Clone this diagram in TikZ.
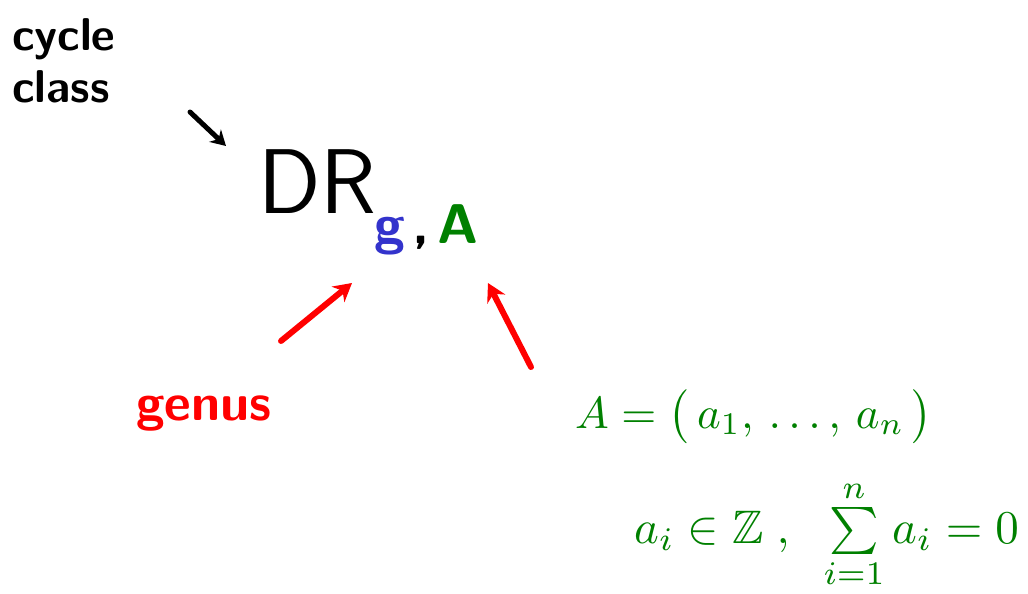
\documentclass[tikz,border=0pt]{standalone}
\usepackage{amssymb}
\usepackage{graphicx}
\usetikzlibrary{arrows.meta}
\definecolor{pgreen}{RGB}{0,128,0}
\definecolor{pblue}{RGB}{51,51,204}
\definecolor{pred}{RGB}{255,0,0}
\tikzset{
  hand/.style={inner sep=0pt, font=\sffamily},
  arr/.style={line width=6pt, line cap=round, -{Stealth[length=18pt,width=20pt]}},
}
\begin{document}
\begin{tikzpicture}[x=1pt,y=-1pt]
\useasboundingbox (0,0) rectangle (1028,594);
% labels
\node[hand, font=\fontsize{46}{52}\selectfont\sffamily\bfseries, align=left, anchor=north west] (cc) at (12,18) {cycle\\class};
\node[hand, anchor=base west, font=\fontsize{92}{92}\selectfont\sffamily] (dr) at (258,213) {DR};
\node[hand, anchor=base west, text=pblue, font=\fontsize{56}{56}\selectfont\sffamily\bfseries] (g) at (374,243) {g};
\node[hand, anchor=base west, font=\fontsize{56}{56}\selectfont\sffamily\bfseries] (comma) at (412,243) {,};
\node[hand, anchor=base west, text=pgreen, font=\fontsize{56}{56}\selectfont\sffamily\bfseries] (A) at (437,243) {A};
\node[hand, anchor=base west, text=pred, font=\fontsize{52}{52}\selectfont\sffamily\bfseries] (genus) at (136,420) {genus};
\node[hand, anchor=base west, text=pgreen] (avec) at (575,428) {\scalebox{4.5}{$A=\bigl(\,a_1,\,\ldots,\,a_n\,\bigr)$}};
\node[hand, anchor=base west, text=pgreen] (cond) at (634,543) {\scalebox{4.7}{$a_i\in\mathbb{Z}\;,\;\;\sum\limits_{i=1}^{n}a_i=0$}};
% connector endpoints
\coordinate (c1s) at (190,112);
\coordinate (c1e) at (226,146);
\coordinate (g1s) at (281,341);
\coordinate (g1e) at (352,283);
\coordinate (a1s) at (531,367);
\coordinate (a1e) at (488,283);
\draw[arr, black, line width=5pt, -{Stealth[length=15pt,width=17pt]}] (c1s) -- (c1e);
\draw[arr, pred] (g1s) -- (g1e);
\draw[arr, pred] (a1s) -- (a1e);
\end{tikzpicture}
\end{document}
